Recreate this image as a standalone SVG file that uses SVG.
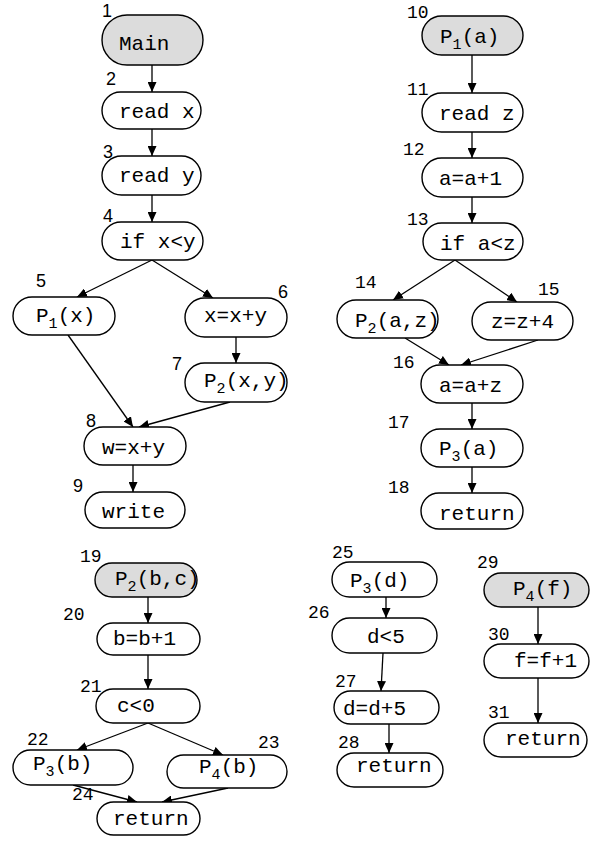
<svg xmlns="http://www.w3.org/2000/svg" width="597" height="850" viewBox="0 0 597 850">
<style>
.b{fill:#ffffff;stroke:#000;stroke-width:1.4}
.g{fill:#dcdcdc;stroke:#000;stroke-width:1.4}
.t{font-family:"Liberation Mono","Courier New",monospace;font-size:21px;fill:#000}
.s{font-size:15px}
.n{font-family:"Liberation Sans",Arial,sans-serif;font-size:18px;fill:#000}
.m{font-family:"Liberation Mono","Courier New",monospace;font-size:18px;fill:#000}
.e{fill:none;stroke:#000;stroke-width:1.3;marker-end:url(#ah)}
</style>
<defs>
<marker id="ah" markerUnits="userSpaceOnUse" viewBox="0 0 10 9" refX="10" refY="4.5" markerWidth="10" markerHeight="9" orient="auto">
<path d="M0,0 L10,4.5 L0,9 z" fill="#000"/>
</marker>
</defs>
<rect width="597" height="850" fill="#ffffff"/>

<g id="connectors">
<path class="e" d="M152,52 L152,92"/>
<path class="e" d="M152,129 L152,156"/>
<path class="e" d="M152,195 L152,222"/>
<path class="e" d="M152,260 L77,297"/>
<path class="e" d="M152,260 L213,298"/>
<path class="e" d="M236,337 L236,363"/>
<path class="e" d="M68,335 L133,427"/>
<path class="e" d="M230,402 L139,427"/>
<path class="e" d="M133,465 L133,492"/>
<path class="e" d="M472,55 L472,93"/>
<path class="e" d="M472,132 L472,158"/>
<path class="e" d="M472,197 L472,223"/>
<path class="e" d="M455,260 L393,300"/>
<path class="e" d="M455,260 L517,302"/>
<path class="e" d="M405,338 L449,365"/>
<path class="e" d="M538,340 L461,365"/>
<path class="e" d="M472,403 L472,429"/>
<path class="e" d="M472,467 L472,493"/>
<path class="e" d="M148,597 L148,623"/>
<path class="e" d="M148,655 L148,689"/>
<path class="e" d="M148,723 L77,750"/>
<path class="e" d="M148,723 L223,755"/>
<path class="e" d="M73,785 L137,802"/>
<path class="e" d="M228,788 L162,802"/>
<path class="e" d="M386,597 L386,618"/>
<path class="e" d="M383,653 L381,691"/>
<path class="e" d="M389,724 L389,753"/>
<path class="e" d="M538,607 L538,644"/>
<path class="e" d="M538,678 L538,723"/>
</g>

<g id="n1"><rect class="g" x="102" y="15" width="101" height="50" rx="25"/><text class="t" x="119" y="50">Main</text><text class="n" x="102" y="17">1</text></g>
<g id="n2"><rect class="b" x="102" y="92" width="99" height="37" rx="18.5"/><text class="t" x="119" y="118">read x</text><text class="n" x="106" y="85">2</text></g>
<g id="n3"><rect class="b" x="102" y="156" width="99" height="39" rx="19.5"/><text class="t" x="119" y="182">read y</text><text class="n" x="103" y="158">3</text></g>
<g id="n4"><rect class="b" x="102" y="222" width="101" height="38" rx="19"/><text class="t" x="120" y="248">if x&lt;y</text><text class="n" x="103" y="222">4</text></g>
<g id="n5"><rect class="b" x="13" y="297" width="102" height="38" rx="19"/><text class="t" x="36" y="322">P<tspan class="s" dy="6">1</tspan><tspan dy="-6">(x)</tspan></text><text class="n" x="36" y="287">5</text></g>
<g id="n6"><rect class="b" x="185" y="298" width="102" height="39" rx="19.5"/><text class="t" x="204" y="322">x=x+y</text><text class="n" x="278" y="298">6</text></g>
<g id="n7"><rect class="b" x="185" y="363" width="102" height="39" rx="19.5"/><text class="t" x="204" y="387">P<tspan class="s" dy="6">2</tspan><tspan dy="-6">(x,y)</tspan></text><text class="n" x="172" y="370">7</text></g>
<g id="n8"><rect class="b" x="84" y="427" width="102" height="38" rx="19"/><text class="t" x="102" y="454">w=x+y</text><text class="n" x="86" y="427">8</text></g>
<g id="n9"><rect class="b" x="85" y="492" width="100" height="36" rx="18"/><text class="t" x="102" y="518">write</text><text class="n" x="73" y="492">9</text></g>

<g id="n10"><rect class="g" x="422" y="16" width="101" height="39" rx="19.5"/><text class="t" x="440" y="43">P<tspan class="s" dy="6">1</tspan><tspan dy="-6">(a)</tspan></text><text class="m" x="407" y="18">10</text></g>
<g id="n11"><rect class="b" x="422" y="93" width="101" height="39" rx="19.5"/><text class="t" x="439" y="120">read z</text><text class="m" x="407" y="95">11</text></g>
<g id="n12"><rect class="b" x="422" y="158" width="101" height="39" rx="19.5"/><text class="t" x="439" y="185">a=a+1</text><text class="m" x="403" y="155">12</text></g>
<g id="n13"><rect class="b" x="423" y="223" width="100" height="37" rx="18.5"/><text class="t" x="440" y="250">if a&lt;z</text><text class="m" x="407" y="225">13</text></g>
<g id="n14"><rect class="b" x="337" y="300" width="101" height="38" rx="19"/><text class="t" x="355" y="327">P<tspan class="s" dy="6">2</tspan><tspan dy="-6">(a,z)</tspan></text><text class="m" x="355" y="288">14</text></g>
<g id="n15"><rect class="b" x="472" y="302" width="101" height="38" rx="19"/><text class="t" x="491" y="328">z=z+4</text><text class="m" x="538" y="295">15</text></g>
<g id="n16"><rect class="b" x="421" y="365" width="102" height="38" rx="19"/><text class="t" x="439" y="392">a=a+z</text><text class="m" x="393" y="368">16</text></g>
<g id="n17"><rect class="b" x="421" y="429" width="102" height="38" rx="19"/><text class="t" x="439" y="455">P<tspan class="s" dy="6">3</tspan><tspan dy="-6">(a)</tspan></text><text class="m" x="388" y="428">17</text></g>
<g id="n18"><rect class="b" x="421" y="493" width="102" height="36" rx="18"/><text class="t" x="439" y="520">return</text><text class="m" x="388" y="493">18</text></g>

<g id="n19"><rect class="g" x="95" y="563" width="102" height="34" rx="17"/><text class="t" x="115" y="585">P<tspan class="s" dy="6">2</tspan><tspan dy="-6">(b,c)</tspan></text><text class="m" x="80" y="562">19</text></g>
<g id="n20"><rect class="b" x="97" y="623" width="103" height="32" rx="16"/><text class="t" x="113" y="645">b=b+1</text><text class="m" x="63" y="620">20</text></g>
<g id="n21"><rect class="b" x="96" y="689" width="104" height="34" rx="17"/><text class="t" x="117" y="712">c&lt;0</text><text class="m" x="80" y="692">21</text></g>
<g id="n22"><rect class="b" x="13" y="750" width="120" height="35" rx="17.5"/><text class="t" x="33" y="770">P<tspan class="s" dy="6">3</tspan><tspan dy="-6">(b)</tspan></text><text class="m" x="27" y="745">22</text></g>
<g id="n23"><rect class="b" x="167" y="755" width="120" height="33" rx="16.5"/><text class="t" x="199" y="773">P<tspan class="s" dy="6">4</tspan><tspan dy="-6">(b)</tspan></text><text class="m" x="258" y="748">23</text></g>
<g id="n24"><rect class="b" x="97" y="802" width="103" height="33" rx="16.5"/><text class="t" x="113" y="825">return</text><text class="m" x="72" y="800">24</text></g>

<g id="n25"><rect class="b" x="332" y="562" width="105" height="35" rx="17.5"/><text class="t" x="350" y="587">P<tspan class="s" dy="6">3</tspan><tspan dy="-6">(d)</tspan></text><text class="m" x="332" y="558">25</text></g>
<g id="n26"><rect class="b" x="332" y="618" width="105" height="35" rx="17.5"/><text class="t" x="367" y="643">d&lt;5</text><text class="m" x="308" y="618">26</text></g>
<g id="n27"><rect class="b" x="334" y="691" width="105" height="33" rx="16.5"/><text class="t" x="343" y="715">d=d+5</text><text class="m" x="335" y="687">27</text></g>
<g id="n28"><rect class="b" x="337" y="753" width="106" height="34" rx="17"/><text class="t" x="356" y="772">return</text><text class="m" x="338" y="748">28</text></g>
<g id="n29"><rect class="g" x="484" y="573" width="105" height="34" rx="17"/><text class="t" x="513" y="595">P<tspan class="s" dy="6">4</tspan><tspan dy="-6">(f)</tspan></text><text class="m" x="477" y="568">29</text></g>
<g id="n30"><rect class="b" x="484" y="644" width="105" height="34" rx="17"/><text class="t" x="514" y="667">f=f+1</text><text class="m" x="488" y="640">30</text></g>
<g id="n31"><rect class="b" x="484" y="723" width="103" height="34" rx="17"/><text class="t" x="505" y="745">return</text><text class="m" x="488" y="718">31</text></g>
</svg>
